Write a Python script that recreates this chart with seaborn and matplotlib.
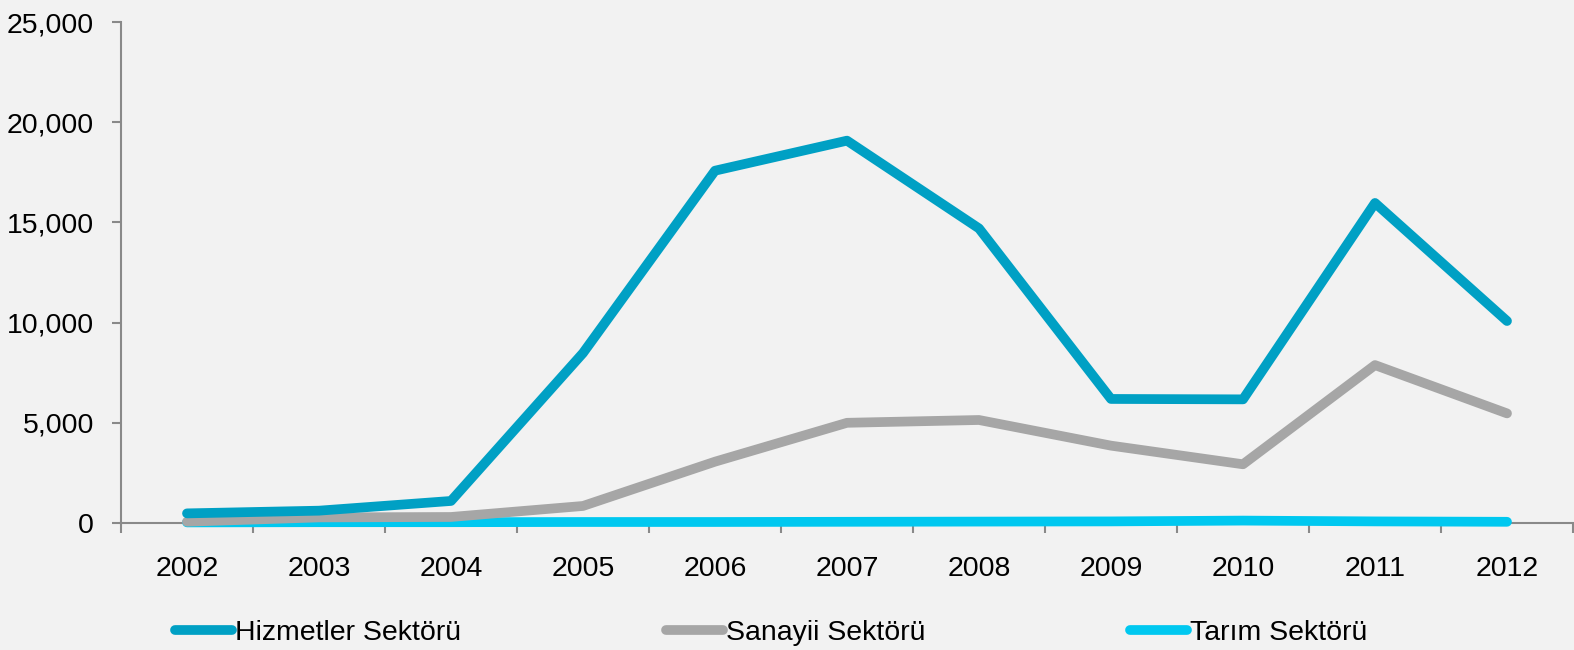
import matplotlib
matplotlib.use("Agg")
import matplotlib.pyplot as plt
import seaborn as sns
import pandas as pd
from matplotlib.ticker import FuncFormatter, FixedLocator
from matplotlib.lines import Line2D

years = ["2002", "2003", "2004", "2005", "2006", "2007", "2008", "2009", "2010", "2011", "2012"]
hizmetler = [480, 615, 1100, 8480, 17580, 19080, 14700, 6190, 6170, 15970, 10080]
sanayii = [65, 280, 300, 850, 3060, 5000, 5140, 3860, 2930, 7880, 5470]
tarim = [30, 40, 40, 50, 50, 60, 70, 80, 120, 80, 60]
series_names = ["Hizmetler Sektörü", "Sanayii Sektörü", "Tarım Sektörü"]
colors = ["#00A0C4", "#A6A6A6", "#00C8F0"]
yticks = [0, 5000, 10000, 15000, 20000, 25000]

sns.set_theme(style="white")
plt.rcParams["font.family"] = ["Liberation Sans", "DejaVu Sans"]

bg = "#F2F2F2"
fs = 20.5
fig = plt.figure(figsize=(15.74, 6.5), dpi=100, facecolor=bg)
ax = fig.add_axes([121 / 1574, 1 - 523 / 650, (1573 - 121) / 1574, (523 - 22) / 650])
ax.set_facecolor(bg)

rows = []
for name, vals in zip(series_names, [hizmetler, sanayii, tarim]):
    for i, v in enumerate(vals):
        rows.append({"idx": i, "value": v, "series": name})
df = pd.DataFrame(rows)

sns.lineplot(data=df, x="idx", y="value", hue="series", hue_order=series_names,
             palette=dict(zip(series_names, colors)), linewidth=7, ax=ax,
             legend=False, sort=False)
zorders = {series_names[0]: 4, series_names[1]: 3, series_names[2]: 2}
for line, name in zip(ax.get_lines(), series_names):
    line.set_solid_capstyle("round")
    line.set_solid_joinstyle("round")
    line.set_clip_on(False)
    line.set_zorder(zorders[name])

ax.set_xlim(-0.5, 10.5)
ax.set_ylim(0, 25000)
ax.set_xlabel("")
ax.set_ylabel("")

ax.xaxis.set_major_locator(FixedLocator(range(len(years))))
ax.set_xticklabels(years)
ax.xaxis.set_minor_locator(FixedLocator([i - 0.5 for i in range(len(years) + 1)]))
ax.tick_params(axis="x", which="major", length=0, pad=24, labelsize=fs, labelcolor="black")
ax.tick_params(axis="x", which="minor", length=7, width=1.5, color="#898989", direction="out", bottom=True)

ax.set_yticks(yticks)
ax.yaxis.set_major_formatter(FuncFormatter(lambda v, p: f"{v:,.0f}"))
ax.tick_params(axis="y", which="major", length=6.5, width=1.5, color="#898989", direction="out",
               left=True, pad=13, labelsize=fs, labelcolor="black")

for s in ["top", "right"]:
    ax.spines[s].set_visible(False)
for s in ["left", "bottom"]:
    ax.spines[s].set_color("#898989")
    ax.spines[s].set_linewidth(1.5)
    ax.spines[s].set_zorder(1)

handles = [Line2D([0], [0], color=c, linewidth=7, solid_capstyle="round") for c in colors]
fig.legend(handles, series_names, loc="center left", bbox_to_anchor=(175 / 1574, 1 - 633 / 650),
           ncol=3, frameon=False, fontsize=fs, handlelength=2.0, handletextpad=0.1,
           columnspacing=7.2, borderaxespad=0, borderpad=0, labelcolor="black")

fig.savefig("out.png", dpi=100, facecolor=bg)
